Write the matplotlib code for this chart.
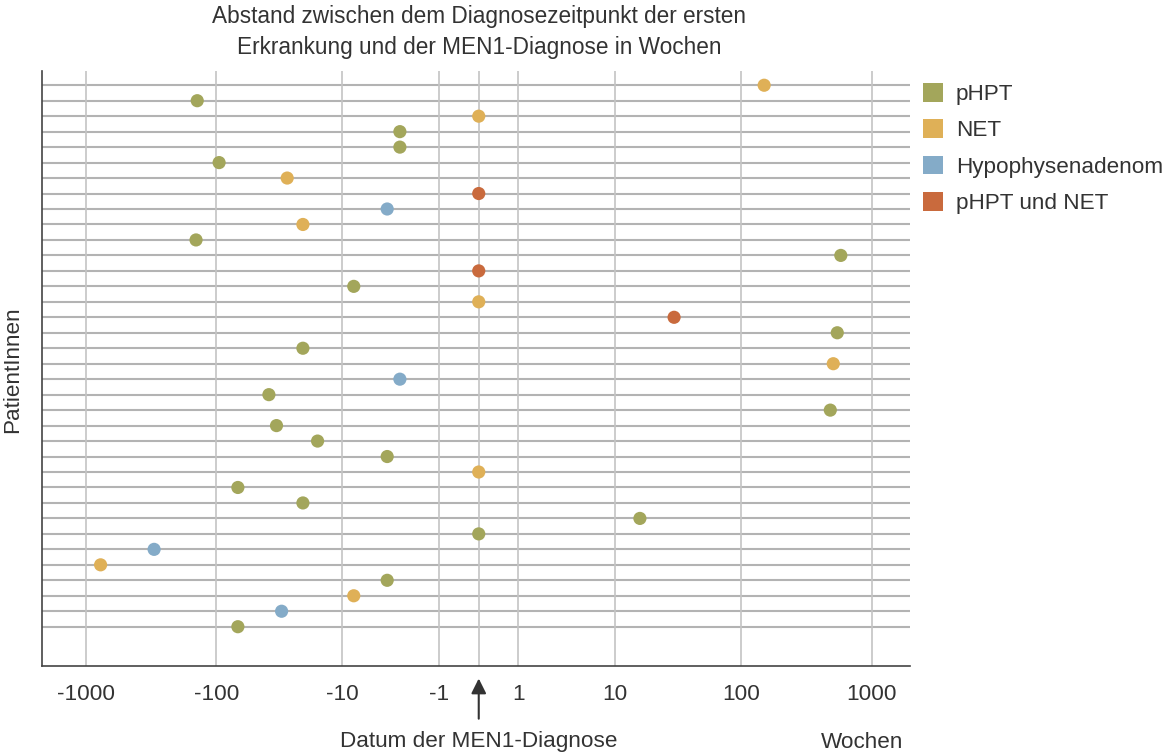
import numpy as np
import matplotlib
matplotlib.use("Agg")
import matplotlib.pyplot as plt
from matplotlib.patches import Patch

plt.rcParams["font.family"] = ["Liberation Sans", "DejaVu Sans"]

# --- Daten (Wochen zwischen erster Erkrankung und MEN1-Diagnose) ---
werte = [150, -140, 0, -3, -3, -95, -28, 0, -4, -21, -143, 580, 0, -8, 0, 30,
         545, -21, 508, -3, -39, 482, -34, -16, -4, 0, -68, -21, 16, 0, -300,
         -770, -4, -8, -31, -68]
kategorie = ["NET", "pHPT", "NET", "pHPT", "pHPT", "pHPT", "NET", "pHPT und NET",
             "Hypophysenadenom", "NET", "pHPT", "pHPT", "pHPT und NET", "pHPT", "NET",
             "pHPT und NET", "pHPT", "pHPT", "NET", "Hypophysenadenom", "pHPT", "pHPT",
             "pHPT", "pHPT", "pHPT", "NET", "pHPT", "pHPT", "pHPT", "pHPT",
             "Hypophysenadenom", "NET", "pHPT", "NET", "Hypophysenadenom", "pHPT"]
gruppen = ["pHPT", "NET", "Hypophysenadenom", "pHPT und NET"]
farben = {"pHPT": "#a3a65b", "NET": "#dfb057",
          "Hypophysenadenom": "#84abc8", "pHPT und NET": "#c96a3d"}
tick_werte = [-1000, -100, -10, -1, 0, 1, 10, 100, 1000]
tick_labels = ["-1000", "-100", "-10", "-1", "", "1", "10", "100", "1000"]

TXT = "#333333"


# --- Skala: sign(x) * log10(1 + |x|) ---
def fwd(x):
    x = np.asarray(x, dtype=float)
    return np.sign(x) * np.log10(1 + np.abs(x))


def inv(y):
    y = np.asarray(y, dtype=float)
    return np.sign(y) * (10 ** np.abs(y) - 1)


fig = plt.figure(figsize=(11.64, 7.54), dpi=100)
ax = fig.add_axes([41.7 / 1164, 1 - 665.7 / 754, (910 - 41.7) / 1164, (665.7 - 71) / 754])
ax.set_xscale("function", functions=(fwd, inv))
ax.set_xlim(-2170, 1960)

n = len(werte)
zeilen = np.arange(n)
ax.set_ylim(n - 1 + 2.52, -0.92)

# Gitter
for z in zeilen:
    ax.axhline(z, color="#b3b3b3", lw=1.5, zorder=1)
for t in tick_werte:
    ax.axvline(t, color="#c4c4c4", lw=1.2, zorder=1)

for g in gruppen:
    idx = [i for i, k in enumerate(kategorie) if k == g]
    ax.scatter([werte[i] for i in idx], [zeilen[i] for i in idx],
               s=90, color=farben[g], edgecolors="none", zorder=3)

ax.set_xticks(tick_werte)
ax.set_xticklabels(tick_labels)
ax.set_yticks([])
ax.tick_params(axis="x", length=0, pad=13, labelsize=16.2, labelcolor=TXT)
for s in ["top", "right"]:
    ax.spines[s].set_visible(False)
for s in ["left", "bottom"]:
    ax.spines[s].set_color("#444444")
    ax.spines[s].set_linewidth(1.2)

# Titel und Achsenbeschriftung
fig.text(479 / 1164, 1 - 32 / 754,
         "Abstand zwischen dem Diagnosezeitpunkt der ersten\nErkrankung und der MEN1-Diagnose in Wochen",
         ha="center", va="center", fontsize=16.3, color=TXT, linespacing=1.45)
fig.text(13 / 1164, 1 - 370 / 754, "PatientInnen", rotation=90,
         ha="center", va="center", fontsize=16.2, color=TXT)

# Pfeil zum Diagnosedatum
ax.annotate("", xy=(0, 1 - 678.5 / 754), xytext=(0, 1 - 718.7 / 754),
            xycoords=("data", "figure fraction"), textcoords=("data", "figure fraction"),
            arrowprops=dict(arrowstyle="-|>,head_length=0.6,head_width=0.3",
                            color=TXT, lw=1.5, mutation_scale=15,
                            shrinkA=0, shrinkB=0))
ax.annotate("Datum der MEN1-Diagnose", xy=(0, 1 - 742 / 754),
            xycoords=("data", "figure fraction"), ha="center", va="center",
            fontsize=16.2, color=TXT)
fig.text(862 / 1164, 1 - 742 / 754, "Wochen", ha="center", va="center",
         fontsize=16.2, color=TXT)

# Legende
handles = [Patch(facecolor=farben[g], edgecolor="none", label=g) for g in gruppen]
fig.legend(handles=handles, loc="upper left",
           bbox_to_anchor=(923 / 1164, 1 - 83 / 754), frameon=False,
           fontsize=16.2, borderpad=0, borderaxespad=0, handlelength=0.9,
           handleheight=0.9, handletextpad=0.55, labelspacing=0.63,
           labelcolor=TXT)

fig.savefig("out.png", dpi=100)
